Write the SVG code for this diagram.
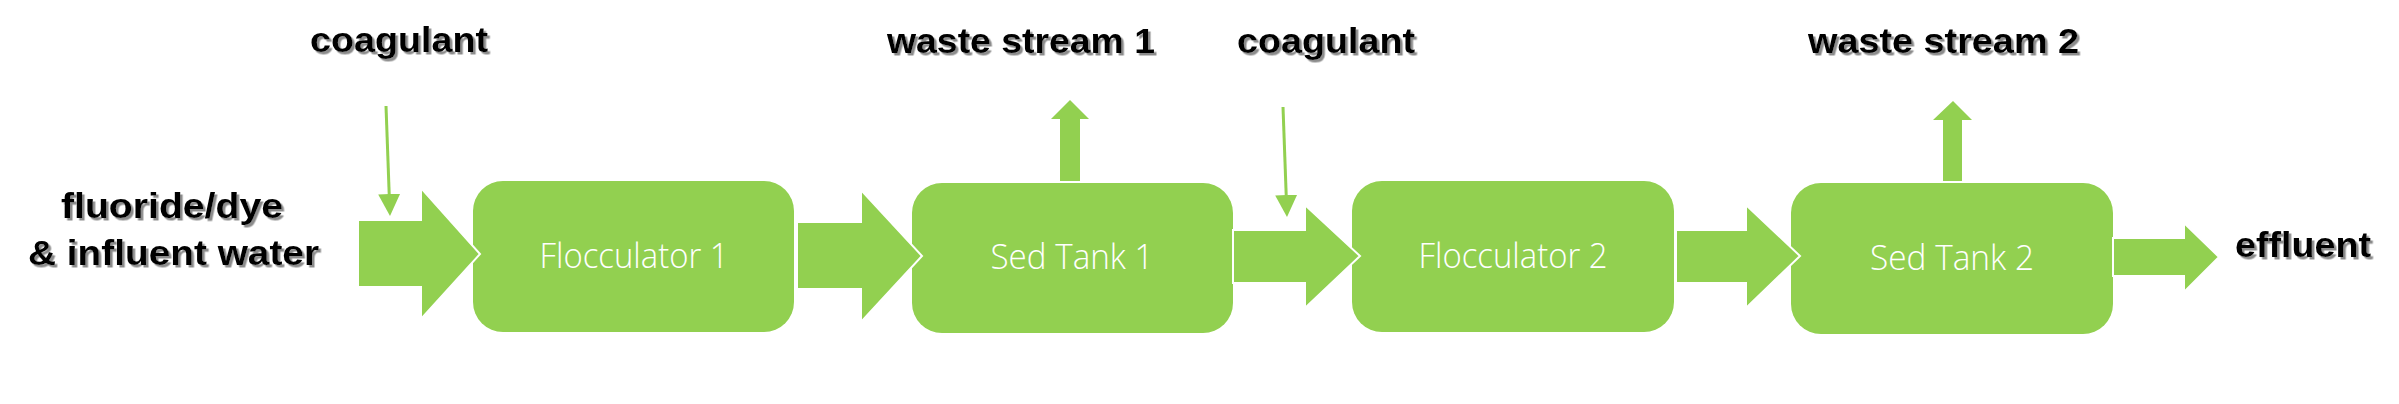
<svg xmlns="http://www.w3.org/2000/svg" width="2399" height="404" viewBox="0 0 2399 404">
<style>
.box{fill:#92D050;}
.blk{fill:#92D050;stroke:#ffffff;stroke-width:2;stroke-linejoin:miter;}
.thin{stroke:#92D050;stroke-width:3;fill:none;}
.lbl{font-family:"Liberation Sans",Arial,sans-serif;font-weight:bold;font-size:35px;fill:#000000;filter:url(#sh);}
.nl{font-family:"Open Sans","Noto Sans","Liberation Sans",sans-serif;font-weight:300;font-size:34px;fill:#ffffff;text-anchor:middle;}
</style>
<defs>
<filter id="sh" x="-10%" y="-30%" width="120%" height="160%">
<feDropShadow dx="2.5" dy="2.5" stdDeviation="0.6" flood-color="#8c8c8c" flood-opacity="1"/>
</filter>
<marker id="ah" markerUnits="userSpaceOnUse" markerWidth="22" markerHeight="22" refX="10" refY="10" orient="auto" viewBox="0 0 20 20">
<path d="M0,0 L20,10 L0,20 z" fill="#92D050"/>
</marker>
</defs>
<rect width="2399" height="404" fill="#ffffff"/>

<g id="flocculator1">
<rect class="box" x="473" y="181" width="321" height="151" rx="30" ry="30"/>
<text class="nl" x="634" y="268" textLength="189" lengthAdjust="spacingAndGlyphs">Flocculator 1</text>
</g>
<g id="sedtank1">
<rect class="box" x="912" y="183" width="321" height="150" rx="30" ry="30"/>
<text class="nl" x="1072" y="269" textLength="163" lengthAdjust="spacingAndGlyphs">Sed Tank 1</text>
</g>
<g id="flocculator2">
<rect class="box" x="1352" y="181" width="322" height="151" rx="30" ry="30"/>
<text class="nl" x="1513" y="268" textLength="189" lengthAdjust="spacingAndGlyphs">Flocculator 2</text>
</g>
<g id="sedtank2">
<rect class="box" x="1791" y="183" width="322" height="151" rx="30" ry="30"/>
<text class="nl" x="1952" y="270" textLength="164" lengthAdjust="spacingAndGlyphs">Sed Tank 2</text>
</g>

<g id="labels">
<text id="coag1" class="lbl" x="310" y="52" textLength="178" lengthAdjust="spacingAndGlyphs">coagulant</text>
<text id="ws1" class="lbl" x="887" y="53" textLength="268" lengthAdjust="spacingAndGlyphs">waste stream 1</text>
<text id="coag2" class="lbl" x="1237" y="53" textLength="178" lengthAdjust="spacingAndGlyphs">coagulant</text>
<text id="ws2" class="lbl" x="1808" y="53" textLength="271" lengthAdjust="spacingAndGlyphs">waste stream 2</text>
<text id="influent1" class="lbl" x="61" y="218" textLength="222" lengthAdjust="spacingAndGlyphs">fluoride/dye</text>
<text id="influent2" class="lbl" x="28" y="265" textLength="291" lengthAdjust="spacingAndGlyphs">&amp; influent water</text>
<text id="effluent" class="lbl" x="2235" y="257" textLength="136" lengthAdjust="spacingAndGlyphs">effluent</text>
</g>

<g id="connectors">
<polygon class="blk" points="358,220 421,220 421,188 480,254 421,319 421,287 358,287"/>
<polygon class="blk" points="797,222 861,222 861,190 922,256 861,322 861,289 797,289"/>
<polygon class="blk" points="1233,230 1305,230 1305,205 1360,256 1305,308 1305,283 1233,283"/>
<polygon class="blk" points="1676,230 1746,230 1746,205 1800,256 1746,308 1746,283 1676,283"/>
<polygon class="blk" points="2113,238 2184,238 2184,223 2219,257 2184,292 2184,276 2113,276"/>
<polygon class="box" points="1060,181 1060,119 1051,119 1070,100 1089,119 1080,119 1080,181"/>
<polygon class="box" points="1943,181 1943,120 1933,120 1953,101 1972,120 1962,120 1962,181"/>
<line class="thin" x1="386" y1="106" x2="389.6" y2="205" marker-end="url(#ah)"/>
<line class="thin" x1="1283" y1="107" x2="1286.6" y2="206" marker-end="url(#ah)"/>
</g>
</svg>
